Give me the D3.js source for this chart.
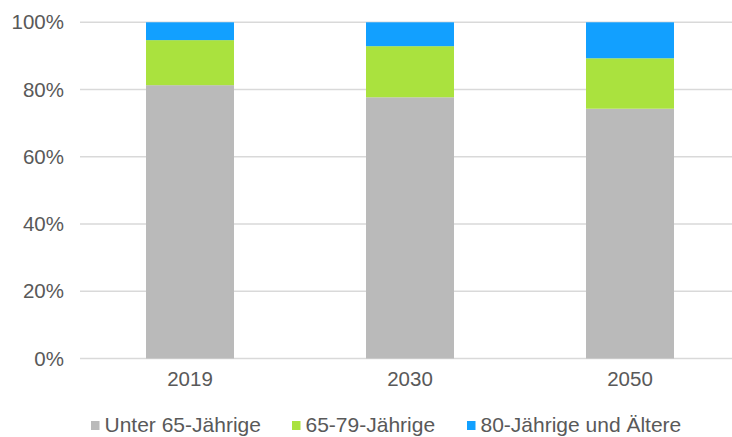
<!DOCTYPE html>
<html>
<head>
<meta charset="utf-8">
<script src="https://cdn.jsdelivr.net/npm/d3@7"></script>
<style>
  html, body { margin: 0; padding: 0; background: #fff; }
  svg { display: block; }
  text { font-family: "Liberation Sans", Arial, sans-serif; fill: #595959; }
</style>
</head>
<body>
<svg id="chart" width="732" height="437"></svg>
<script>
// Population shares by age group (percent)
const years = ["2019", "2030", "2050"];
const under65 = [81.3, 77.7, 74.3];
const age65to79 = [13.4, 15.2, 15.0];
const age80plus = [5.3, 7.1, 10.7];
const seriesNames = ["Unter 65-Jährige", "65-79-Jährige", "80-Jährige und Ältere"];
const seriesColors = ["#bababa", "#aae23e", "#12a0ff"];
const yTicks = [0, 20, 40, 60, 80, 100];

const rows = years.map((y, i) => ({
  year: y,
  s0: under65[i],
  s1: age65to79[i],
  s2: age80plus[i]
}));

const svg = d3.select("#chart");

const x = d3.scaleBand()
  .domain(years)
  .range([80, 740])
  .paddingInner(0.6)
  .paddingOuter(0.3);

const y = d3.scaleLinear()
  .domain([0, 100])
  .range([358.5, 22.3]);

// horizontal gridlines
svg.append("g")
  .selectAll("line")
  .data(yTicks)
  .join("line")
  .attr("x1", 80)
  .attr("x2", 732)
  .attr("y1", d => y(d))
  .attr("y2", d => y(d))
  .attr("stroke", "#d9d9d9")
  .attr("stroke-width", 1.5);

// stacked bars
const stack = d3.stack().keys(["s0", "s1", "s2"]);
const layers = stack(rows);

svg.append("g")
  .selectAll("g")
  .data(layers)
  .join("g")
  .attr("fill", (d, i) => seriesColors[i])
  .selectAll("rect")
  .data(d => d)
  .join("rect")
  .attr("x", d => x(d.data.year))
  .attr("width", x.bandwidth())
  .attr("y", d => y(d[1]))
  .attr("height", d => y(d[0]) - y(d[1]));

// y axis labels
const yAxis = d3.axisLeft(y)
  .tickValues(yTicks)
  .tickFormat(d => d + "%")
  .tickSize(0)
  .tickPadding(0);

svg.append("g")
  .attr("transform", "translate(64,0)")
  .call(yAxis)
  .call(g => g.select(".domain").remove())
  .selectAll("text")
  .attr("font-size", 20.5)
  .attr("font-family", "Liberation Sans, Arial, sans-serif")
  .attr("fill", "#595959");

// x axis labels
const xAxis = d3.axisBottom(x).tickSize(0).tickPadding(0);
svg.append("g")
  .attr("transform", "translate(0,371)")
  .call(xAxis)
  .call(g => g.select(".domain").remove())
  .selectAll("text")
  .attr("font-size", 20.5)
  .attr("font-family", "Liberation Sans, Arial, sans-serif")
  .attr("fill", "#595959");

// legend
const legendX = [91, 292, 467];
const legend = svg.append("g")
  .selectAll("g")
  .data(seriesNames)
  .join("g")
  .attr("transform", (d, i) => `translate(${legendX[i]},0)`);

legend.append("rect")
  .attr("x", 0)
  .attr("y", 421)
  .attr("width", 8.5)
  .attr("height", 9)
  .attr("fill", (d, i) => seriesColors[i]);

legend.append("text")
  .attr("x", 13.5)
  .attr("y", 431.5)
  .attr("font-size", 21)
  .text(d => d);
</script>
</body>
</html>
